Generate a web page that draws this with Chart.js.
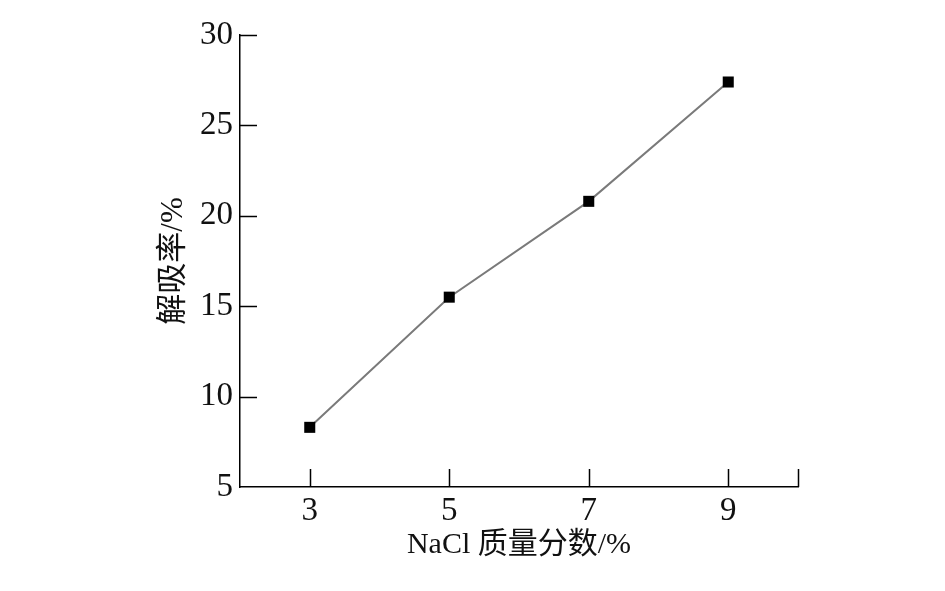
<!DOCTYPE html>
<html lang="zh">
<head>
    <meta charset="UTF-8">
    <title>NaCl 质量分数与解吸率</title>
    <script src="https://cdn.jsdelivr.net/npm/chart.js"></script>
    <style>
        html, body { margin: 0; padding: 0; background: #fff; }
        #wrap { width: 945px; height: 591px; }
    </style>
</head>
<body>
    <div id="wrap"><canvas id="desorbChart"></canvas></div>

    <script>
        // NaCl mass fraction (%) and desorption rate (%)
        const naclFraction = [3, 5, 7, 9];
        const desorptionRate = [8.3, 15.5, 20.8, 27.4];
        const xTickLabels = [3, 5, 7, 9];
        const xTickMarks = [3, 5, 7, 9, 10];
        const yTicks = [10, 15, 20, 25, 30];

        const FONT = '"Liberation Serif", "Times New Roman", "Noto Sans CJK SC", serif';

        // short tick marks pointing into the plot area
        const inwardTicks = {
            id: 'inwardTicks',
            afterDraw(chart) {
                const ctx = chart.ctx;
                const x = chart.scales.x, y = chart.scales.y;
                const area = chart.chartArea;
                ctx.save();
                ctx.strokeStyle = '#000';
                ctx.lineWidth = 1.5;
                ctx.beginPath();
                yTicks.forEach(v => {
                    const py = Math.round(y.getPixelForValue(v)) + 0.5;
                    ctx.moveTo(area.left, py);
                    ctx.lineTo(area.left + 17, py);
                });
                xTickMarks.forEach(v => {
                    const px = Math.round(x.getPixelForValue(v)) + 0.5;
                    ctx.moveTo(px, area.bottom);
                    ctx.lineTo(px, area.bottom - 18);
                });
                ctx.stroke();
                ctx.restore();
            }
        };

        const ctx = document.getElementById('desorbChart').getContext('2d');
        new Chart(ctx, {
            type: 'line',
            data: {
                datasets: [{
                    data: naclFraction.map((v, i) => ({ x: v, y: desorptionRate[i] })),
                    borderColor: '#7a7a7a',
                    borderWidth: 2,
                    pointStyle: 'rect',
                    pointRadius: 7.8,
                    pointBackgroundColor: '#000',
                    pointBorderColor: '#000',
                    pointBorderWidth: 0,
                    tension: 0
                }]
            },
            options: {
                responsive: true,
                maintainAspectRatio: false,
                animation: false,
                layout: {
                    padding: { top: 35, right: 147, left: 0, bottom: 0 }
                },
                plugins: {
                    legend: { display: false },
                    tooltip: { enabled: false }
                },
                scales: {
                    x: {
                        type: 'linear',
                        min: 2,
                        max: 10,
                        afterFit: s => { s.height = 104; },
                        afterBuildTicks: s => { s.ticks = xTickLabels.map(v => ({ value: v })); },
                        grid: { display: true, drawOnChartArea: false, drawTicks: false },
                        border: { display: true, color: '#000', width: 1.5 },
                        ticks: {
                            color: '#111',
                            padding: 5,
                            maxRotation: 0,
                            font: { family: FONT, size: 33 }
                        },
                        title: {
                            display: true,
                            text: 'NaCl 质量分数/%',
                            color: '#111',
                            font: { family: FONT, size: 30 },
                            padding: { top: 0, bottom: 28 }
                        }
                    },
                    y: {
                        min: 5,
                        max: 30,
                        afterFit: s => { s.width = 240; },
                        grid: { display: true, drawOnChartArea: false, drawTicks: false },
                        border: { display: true, color: '#000', width: 1.5 },
                        ticks: {
                            stepSize: 5,
                            color: '#111',
                            padding: 7,
                            font: { family: FONT, size: 33 }
                        },
                        title: {
                            display: true,
                            text: '解吸率/%',
                            color: '#111',
                            font: { family: FONT, size: 31 },
                            padding: { top: 155, bottom: 0 }
                        }
                    }
                }
            },
            plugins: [inwardTicks]
        });
    </script>
</body>
</html>
